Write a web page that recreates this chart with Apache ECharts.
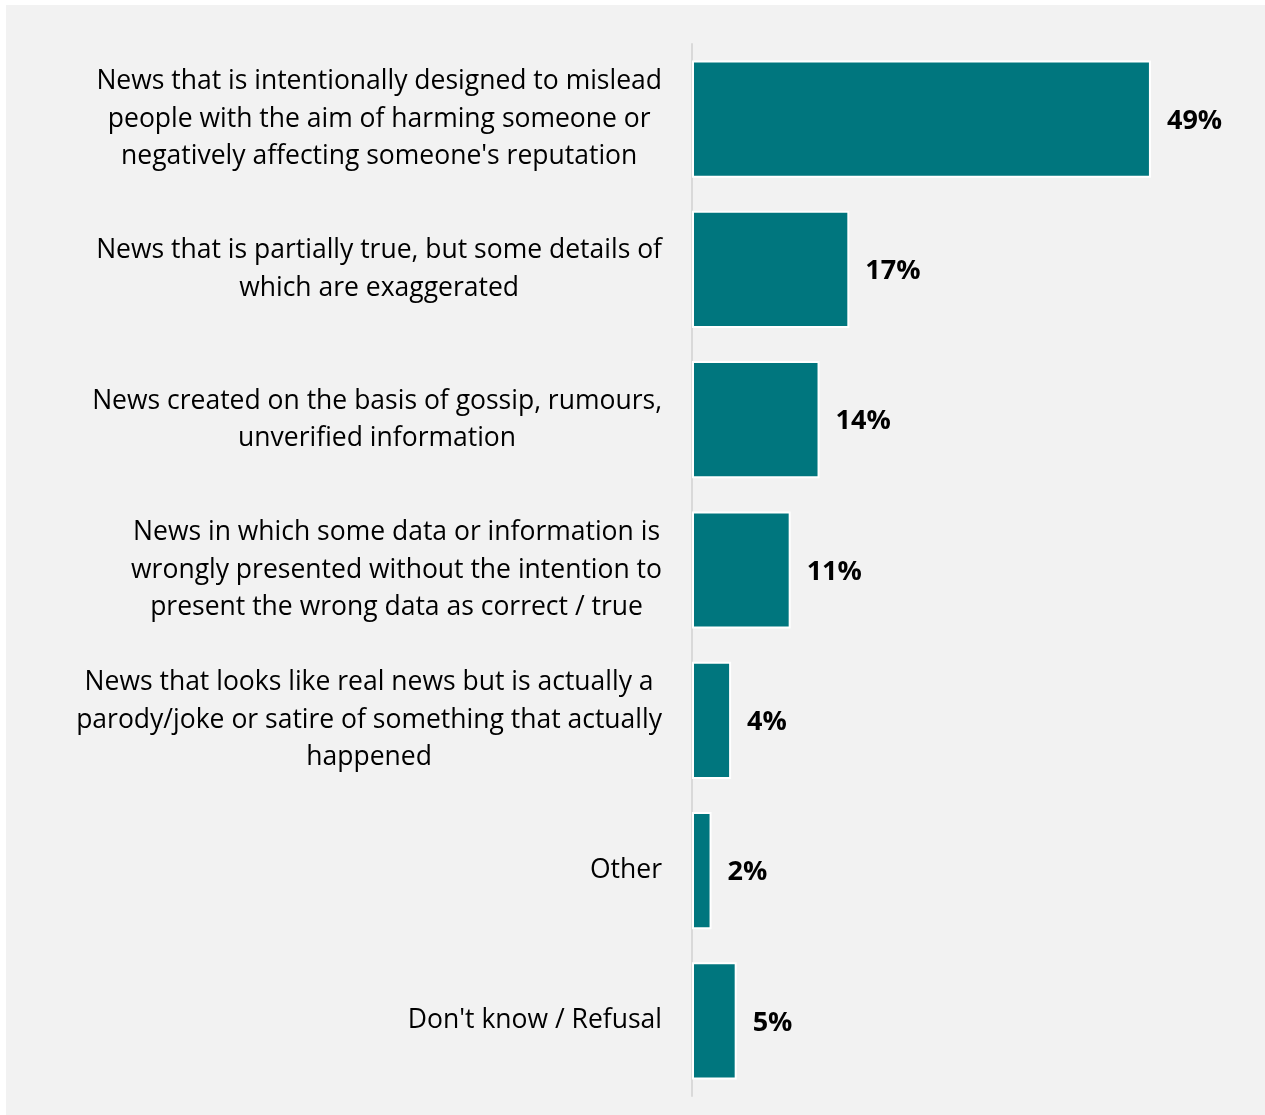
<!DOCTYPE html>
<html>
<head>
<meta charset="utf-8">
<script src="https://cdn.jsdelivr.net/npm/echarts@6/dist/echarts.min.js"></script>
<style>
html,body{margin:0;padding:0;background:#ffffff;}
#chart{position:absolute;left:6px;top:5px;width:1259px;height:1110px;}
</style>
</head>
<body>
<div id="chart"></div>
<script>
const categories = [
  "News that is intentionally designed to mislead\npeople with the aim of harming someone or\nnegatively affecting someone's reputation",
  "News that is partially true, but some details of\nwhich are exaggerated",
  "News created on the basis of gossip, rumours,\nunverified information",
  "News in which some data or information is\nwrongly presented without the intention to\npresent the wrong data as correct / true",
  "News that looks like real news but is actually a\nparody/joke or satire of something that actually\nhappened",
  "Other",
  "Don't know / Refusal"
];
const values = [49.3, 16.9, 13.7, 10.6, 4.2, 2.1, 4.8];
const valueLabels = ["49%", "17%", "14%", "11%", "4%", "2%", "5%"];

const chart = echarts.init(document.getElementById('chart'));
const FONT = '"Open Sans", "Noto Sans", sans-serif';
chart.setOption({
  backgroundColor: '#f2f2f2',
  animation: false,
  grid: {left: 686, top: 39, width: 512, height: 1052, containLabel: false},
  xAxis: {
    type: 'value', min: 0, max: 55, show: false
  },
  yAxis: {
    type: 'category', inverse: true, data: categories,
    axisLine: {show: true, lineStyle: {color: '#d9d9d9', width: 2}},
    axisTick: {show: false},
    splitLine: {show: false},
    axisLabel: {
      margin: 30,
      fontFamily: FONT,
      fontSize: 26.5,
      color: '#000000',
      formatter: function (v) {
        return v.split('\n').map(function (l) { return '{c|' + l + '}'; }).join('\n');
      },
      rich: {c: {align: 'center', fontFamily: FONT, fontSize: 26.5, color: '#000000', lineHeight: 37.5}}
    }
  },
  series: [{
    type: 'bar',
    data: values,
    barCategoryGap: '22%',
    itemStyle: {color: '#00767e', borderColor: '#ffffff', borderWidth: 2},
    label: {
      show: true, position: 'right', distance: 16, offset: [0, 2],
      fontFamily: FONT, fontSize: 27, fontWeight: 'bold', color: '#000000',
      formatter: function (p) { return valueLabels[p.dataIndex]; }
    }
  }]
});
</script>
</body>
</html>
